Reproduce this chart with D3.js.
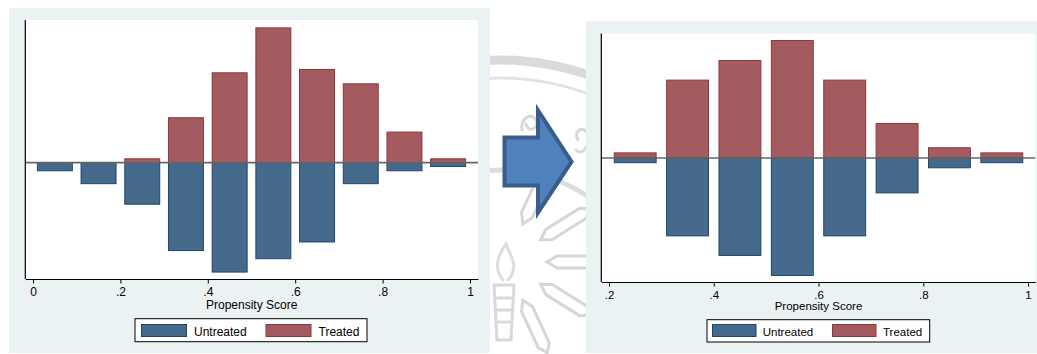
<!DOCTYPE html>
<html>
<head>
<meta charset="utf-8">
<script src="https://cdn.jsdelivr.net/npm/d3@7/dist/d3.min.js"></script>
<style>
  html, body { margin: 0; padding: 0; background: #ffffff; }
  svg { display: block; }
  text { font-family: "Liberation Sans", Arial, sans-serif; fill: #000; }
</style>
</head>
<body>
<svg id="chart" width="1037" height="354"></svg>
<script>
// Propensity-score histograms (fractions per 0.1 bin), before and after matching
const beforeBins      = [0.05, 0.15, 0.25, 0.35, 0.45, 0.55, 0.65, 0.75, 0.85, 0.95];
const beforeTreated   = [0.000, 0.000, 0.008, 0.094, 0.188, 0.282, 0.195, 0.165, 0.064, 0.008];
const beforeUntreated = [0.017, 0.044, 0.087, 0.184, 0.229, 0.201, 0.166, 0.044, 0.017, 0.008];

const afterBins       = [0.25, 0.35, 0.45, 0.55, 0.65, 0.75, 0.85, 0.95];
const afterTreated    = [0.012, 0.183, 0.229, 0.276, 0.183, 0.081, 0.024, 0.012];
const afterUntreated  = [0.011, 0.183, 0.229, 0.276, 0.183, 0.082, 0.023, 0.011];

const beforeTicks = [0, 0.2, 0.4, 0.6, 0.8, 1];
const afterTicks  = [0.2, 0.4, 0.6, 0.8, 1];
const tickLabel = v => v === 0 ? "0" : v === 1 ? "1" : String(v).replace(/^0/, "");

const seriesNames = ["Untreated", "Treated"];
const BAR_WIDTH = 0.08;

const colors = {
  untreatedFill: "#466a8b", untreatedStroke: "#1a476f",
  treatedFill: "#a45b5f",   treatedStroke: "#90353b",
  region: "#eaf2f3"
};

const svg = d3.select("#chart");

// ---- faint seal in the page background ----
const seal = svg.append("g").attr("fill", "none").attr("stroke-linecap", "round");
const sc = [500, 330];
const arc = (r, a0, a1) => d3.arc()({innerRadius: r, outerRadius: r, startAngle: a0, endAngle: a1});
[[270, 9, "#dadada"], [252, 3, "#e2e2e2"], [160, 5, "#dddddd"]].forEach(([r, w, c]) => {
  seal.append("path")
    .attr("transform", `translate(${sc[0]},${sc[1]})`)
    .attr("d", arc(r, -0.3, 1.3))
    .attr("stroke", c).attr("stroke-width", w);
});
const rayCenter = [505, 262];
[-65, -32, 0, 32, 65].forEach(deg => {
  seal.append("path")
    .attr("transform", `translate(${rayCenter[0]},${rayCenter[1]}) rotate(${deg})`)
    .attr("d", "M42,0 L52,-6 L92,-6 L100,0 L92,6 L52,6 Z")
    .attr("stroke", "#d6d6d6").attr("stroke-width", 3);
});
seal.append("path")
  .attr("d", "M494,285 L514,285 L511,340 L497,340 Z M496,298 L512,298 M497,310 L511,310 M497,322 L511,322")
  .attr("stroke", "#d9d9d9").attr("stroke-width", 3);
seal.append("path")
  .attr("d", "M503,280 C492,268 500,252 506,244 C510,256 520,266 508,280")
  .attr("stroke", "#dddddd").attr("stroke-width", 3);
seal.append("path")
  .attr("d", "M522,130 C520,118 532,112 536,120 C540,128 528,134 526,124 M578,140 C572,130 586,124 588,136 C590,148 580,156 576,150")
  .attr("stroke", "#d8d8d8").attr("stroke-width", 3);

// ---- one mirrored histogram panel ----
function drawPanel(p) {
  const g = svg.append("g");
  g.append("rect")
    .attr("x", p.region[0]).attr("y", p.region[1])
    .attr("width", p.region[2] - p.region[0]).attr("height", p.region[3] - p.region[1])
    .attr("fill", colors.region);
  g.append("rect")
    .attr("x", p.plot[0]).attr("y", p.plot[1])
    .attr("width", p.plot[2] - p.plot[0]).attr("height", p.plot[3] - p.plot[1])
    .attr("fill", "#ffffff");

  const x = d3.scaleLinear().domain(p.xDomain).range([p.plot[0], p.plot[2]]);
  const y = d3.scaleLinear().domain(p.yDomain).range([p.plot[3], p.plot[1]]);

  const bars = p.bins.map((c, i) => ({c, t: p.treated[i], u: p.untreated[i]}));

  g.append("g").selectAll("rect").data(bars.filter(d => d.t > 0)).join("rect")
    .attr("x", d => x(d.c - BAR_WIDTH / 2))
    .attr("width", d => x(d.c + BAR_WIDTH / 2) - x(d.c - BAR_WIDTH / 2))
    .attr("y", d => y(d.t))
    .attr("height", d => y(0) - y(d.t))
    .attr("fill", colors.treatedFill).attr("stroke", colors.treatedStroke).attr("stroke-width", 1);

  g.append("g").selectAll("rect").data(bars.filter(d => d.u > 0)).join("rect")
    .attr("x", d => x(d.c - BAR_WIDTH / 2))
    .attr("width", d => x(d.c + BAR_WIDTH / 2) - x(d.c - BAR_WIDTH / 2))
    .attr("y", y(0))
    .attr("height", d => y(-d.u) - y(0))
    .attr("fill", colors.untreatedFill).attr("stroke", colors.untreatedStroke).attr("stroke-width", 1);

  // zero reference line
  g.append("line")
    .attr("x1", p.plot[0]).attr("x2", p.plot[2])
    .attr("y1", y(0)).attr("y2", y(0))
    .attr("stroke", "#666666").attr("stroke-width", 1.7);

  // y axis (no labels)
  g.append("line")
    .attr("x1", p.plot[0]).attr("x2", p.plot[0])
    .attr("y1", p.plot[1]).attr("y2", p.plot[3])
    .attr("stroke", "#000").attr("stroke-width", 1.2);

  // x axis
  const ax = g.append("g")
    .attr("transform", `translate(0,${p.plot[3]})`)
    .call(d3.axisBottom(x).tickValues(p.ticks).tickFormat(tickLabel).tickSize(4.5).tickPadding(4).tickSizeOuter(0));
  ax.select(".domain").attr("stroke", "#000").attr("stroke-width", 1.2);
  ax.selectAll(".tick line").attr("stroke", "#000").attr("stroke-width", 1);
  ax.selectAll(".tick text")
    .attr("font-family", "Liberation Sans, Arial, sans-serif")
    .attr("font-size", p.fs).attr("fill", "#000");

  g.append("text")
    .attr("x", p.titleX).attr("y", p.titleY)
    .attr("text-anchor", "middle").attr("font-size", p.fs)
    .text("Propensity Score");

  // legend
  const L = p.legend;
  g.append("rect")
    .attr("x", L.box[0]).attr("y", L.box[1])
    .attr("width", L.box[2] - L.box[0]).attr("height", L.box[3] - L.box[1])
    .attr("fill", "#fff").attr("stroke", "#000").attr("stroke-width", 1);
  const sw = [[colors.untreatedFill, colors.untreatedStroke], [colors.treatedFill, colors.treatedStroke]];
  seriesNames.forEach((name, i) => {
    g.append("rect")
      .attr("x", L.sx[i]).attr("y", L.sy)
      .attr("width", L.sw).attr("height", L.sh)
      .attr("fill", sw[i][0]).attr("stroke", sw[i][1]).attr("stroke-width", 1);
    g.append("text")
      .attr("x", L.tx[i]).attr("y", L.ty)
      .attr("font-size", p.fs)
      .text(name);
  });
}

drawPanel({
  region: [9, 8, 490, 353],
  plot: [25.3, 20, 478, 279],
  xDomain: [-0.0176, 1.0183],
  yDomain: [-0.2435, 0.2985],
  bins: beforeBins, treated: beforeTreated, untreated: beforeUntreated,
  ticks: beforeTicks,
  fs: 12,
  titleX: 251.7, titleY: 308.5,
  legend: {box: [135, 318.7, 367, 341.7], sx: [141.5, 266], sy: 324.5, sw: 45, sh: 12, tx: [194, 318.5], ty: 335.5}
});

drawPanel({
  region: [586, 21, 1037, 353],
  plot: [601.3, 33.5, 1035.3, 282],
  xDomain: [0.1853, 1.0139],
  yDomain: [-0.2914, 0.2925],
  bins: afterBins, treated: afterTreated, untreated: afterUntreated,
  ticks: afterTicks,
  fs: 11.5,
  titleX: 818.5, titleY: 310,
  legend: {box: [707, 319.7, 929.7, 342], sx: [712.5, 832.5], sy: 324.5, sw: 43.5, sh: 12, tx: [762.7, 883], ty: 335.5}
});

// block arrow between the panels
svg.append("path")
  .attr("d", "M504.5,137.5 L538,137.5 L538,110.5 L571.5,161.7 L538,212.5 L538,185.5 L504.5,185.5 Z")
  .attr("fill", "#4f81bd").attr("stroke", "#385d8a").attr("stroke-width", 4)
  .attr("stroke-linejoin", "miter");
</script>
</body>
</html>
